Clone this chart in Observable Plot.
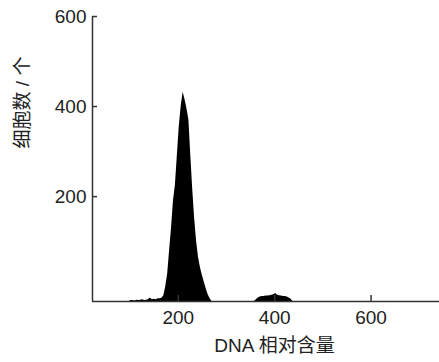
<!DOCTYPE html>
<html><head><meta charset="utf-8">
<script src="https://cdn.jsdelivr.net/npm/d3@7"></script>
<script src="https://cdn.jsdelivr.net/npm/@observablehq/plot@0.6"></script>
<style>body{margin:0;background:#fff}</style>
</head><body><div id="chart"></div>
<script>
// DNA relative content (bin positions) and cell counts
const dnaContent = [
  98,102,106,110,114,118,122,126,130,134,138,142,146,150,154,158,162,166,
  170,174,178,182,186,190,194,198,202,206,210,214,218,222,226,230,234,238,242,246,250,254,258,262,266,270,
  274,
  358,362,366,370,374,378,382,386,390,394,398,402,406,410,414,418,422,426,430,434,438
];
const cellCounts = [
  -33,-31,-31,-32,-30,-31,-30,-29,-31,-30,-29,-25,-29,-28,-29,-27,-27,-26,
  -20,0,28,80,130,190,225,290,355,400,432,415,395,370,290,215,150,100,65,42,25,10,-5,-18,-27,-33,
  -33,
  -33,-29,-25,-23,-22,-22,-21,-21,-20,-19,-18,-15,-19,-20,-21,-22,-22,-23,-25,-28,-33
];
const xTicks = [200, 400, 600];
const yTicks = [200, 400, 600];
const xLabel = "DNA 相对含量";
const yLabel = "细胞数 / 个";
const xDomain = [22, 742];
const yDomain = [-33, 600];

const data = dnaContent.map((x, i) => ({x, y: cellCounts[i]}));

const chart = Plot.plot({
  width: 439, height: 362,
  marginTop: 16, marginBottom: 61, marginLeft: 92, marginRight: 0,
  style: {fontFamily: "'Liberation Sans', Arial, 'Noto Sans CJK SC', sans-serif", fontSize: "19px", color: "#222", background: "#fff"},
  x: {domain: xDomain},
  y: {domain: yDomain},
  marks: [
    Plot.areaY(data, {x: "x", y1: yDomain[0], y2: "y", curve: "linear", fill: "#000"}),
    Plot.ruleX([xDomain[0]], {stroke: "#333", strokeWidth: 1.5}),
    Plot.ruleY([yDomain[0]], {stroke: "#333", strokeWidth: 1.5}),
    Plot.axisX({ticks: xTicks, tickSize: -6, tickPadding: 15, label: null, stroke: "#333", strokeWidth: 1.5}),
    Plot.axisY({ticks: yTicks, tickSize: -5, tickPadding: 11, label: null, stroke: "#333", strokeWidth: 1.5}),
    Plot.text([xLabel], {frameAnchor: "bottom", textAnchor: "middle", lineAnchor: "middle", dx: 8.5, dy: 44, fontSize: 19, fill: "#222"}),
    Plot.text([yLabel], {frameAnchor: "top-left", textAnchor: "middle", lineAnchor: "middle", rotate: -90, dx: -70, dy: 86, fontSize: 19, fill: "#222"})
  ]
});
document.getElementById("chart").appendChild(chart);
</script>
</body></html>
